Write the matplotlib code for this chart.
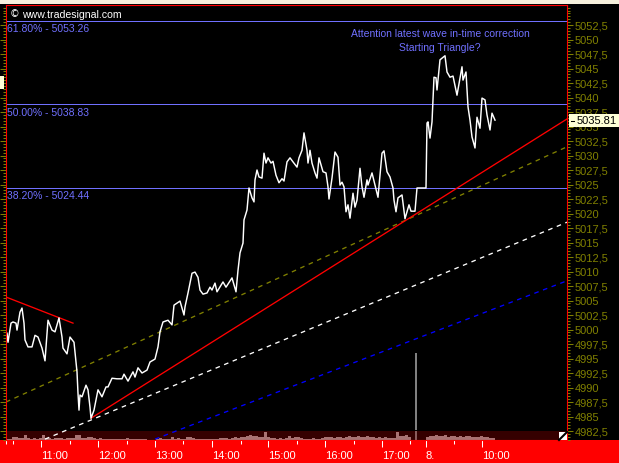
import matplotlib
matplotlib.use("Agg")
import matplotlib.pyplot as plt
from matplotlib.patches import Rectangle
from matplotlib.ticker import MultipleLocator
import numpy as np

W, H = 619, 463

# price line, x is bar number (about one bar per pixel)
bars = [0,1,2,5,7,10,11,14,16,18,19,22,26,29,32,36,39,42,46,49,53,56,57,61,64,68,71,72,73,74,76,80,82,84,85,
        88,92,96,100,102,106,111,116,118,122,127,129,132,136,141,144,149,152,154,157,162,166,168,174,178,179,
        182,186,189,192,194,197,201,204,206,209,211,217,220,226,230,232,234,237,238,241,243,246,248,249,251,
        253,256,258,260,262,265,267,270,273,276,278,281,284,287,291,293,296,298,301,302,304,306,309,311,313,
        317,320,322,323,326,329,332,334,336,338,340,342,344,347,349,351,354,356,358,361,362,366,369,372,376,
        378,381,384,387,388,390,392,396,399,403,405,409,411,420,421,422,424,426,428,430,431,434,439,441,444,
        447,451,456,457,460,462,464,466,469,471,474,476,479,481,484,486,489]
closes = [4997.3,4999.4,4997.8,5001.1,5001.3,5001.1,4999.9,5003.0,5003.7,5001.1,4998.2,4997.0,4997.0,4999.0,
          4998.7,4996.8,4994.6,5001.6,4999.9,4999.6,5002.0,4998.7,4996.8,4995.8,4998.7,4997.8,4992.7,4989.0,
          4986.1,4988.7,4988.4,4990.4,4989.6,4986.6,4984.7,4986.1,4989.6,4988.4,4990.1,4990.1,4991.6,4991.5,
          4991.5,4992.3,4991.1,4992.7,4991.8,4993.4,4992.5,4993.0,4994.4,4994.9,4997.0,4999.6,5001.3,5001.6,
          5000.8,5004.2,5004.9,5002.5,5003.9,5006.3,5009.7,5009.9,5009.0,5006.8,5006.1,5006.3,5007.3,5006.8,
          5008.0,5006.5,5008.2,5007.3,5008.9,5006.5,5010.2,5013.2,5014.9,5018.9,5020.6,5024.4,5022.7,5022.0,
          5025.8,5027.5,5026.3,5026.1,5030.4,5028.7,5029.6,5028.7,5029.0,5026.6,5025.3,5026.0,5025.6,5028.9,
          5029.6,5028.9,5028.0,5029.6,5030.9,5033.9,5030.9,5028.7,5030.9,5028.7,5027.0,5026.1,5029.6,5027.2,
          5027.0,5024.6,5022.5,5026.1,5030.6,5029.7,5024.9,5025.4,5024.6,5020.3,5021.5,5019.2,5023.5,5021.1,
          5022.3,5027.8,5024.6,5022.8,5025.8,5024.9,5027.0,5024.9,5022.8,5030.4,5030.8,5027.2,5026.3,5024.4,
          5022.3,5020.3,5022.7,5023.2,5019.1,5021.5,5020.4,5020.4,5024.4,5024.4,5035.6,5035.8,5033.0,5035.8,
          5043.5,5043.4,5041.3,5046.5,5047.2,5044.4,5043.5,5043.7,5040.4,5045.3,5043.0,5044.4,5038.4,5036.1,
          5033.2,5031.3,5036.6,5034.7,5039.9,5039.6,5037.0,5034.4,5037.3,5036.1]

# volume, one value every 3 bars
volumes = [1,1,3,3,2,2,5,2,1,2,
           1,2,5,2,2,1,2,2,2,1,
           2,2,2,5,5,2,2,3,3,2,
           1,2,1,1,1,1,1,1,1,1,
           2,1,1,1,1,1,1,0,0,0,
           1,2,1,1,1,3,1,2,1,1,
           3,3,2,1,1,1,1,1,1,1,
           1,2,2,2,1,2,3,2,3,3,
           4,5,4,4,3,3,8,3,2,2,
           1,2,1,2,4,2,3,3,2,1,
           1,1,2,1,1,2,3,3,3,2,
           3,3,2,3,4,3,3,4,3,3,
           4,3,3,2,3,2,3,2,2,2,
           8,4,4,5,3,0,0,0,0,0,
           3,4,4,5,4,4,5,3,4,4,
           3,4,3,4,4,3,3,3,4,3,
           3,2,2]
vol_step = 3
spike_bar = 410
spike_volume = 87
band_top = 9

# fib levels
fib_prices = [5053.26, 5038.83, 5024.44]
fib_labels = ["61.80% - 5053.26", "50.00% - 5038.83", "38.20% - 5024.44"]

# trend lines (bar, price at both ends)
red_short_x, red_short_y = [0, 67], [5005.6, 5001.1]
red_x, red_y = [85, 561], [4984.7, 5036.3]
olive_x, olive_y = [0, 561], [4987.5, 5031.5]
white_x, white_y = [39, 561], [4981.1, 5018.5]
blue_x, blue_y = [149, 561], [4981.1, 5008.4]

price_ticks = np.arange(4982.5, 5053, 2.5)
time_ticks = [35, 92, 149, 206, 262, 319, 376, 420, 476]
time_labels = ["11:00", "12:00", "13:00", "14:00", "15:00", "16:00", "17:00", "8.", "10:00"]
minor_time_ticks = [0, 7, 64, 121, 177, 235, 291, 348, 404, 448]
last_price = "5035.81"

RED = "#ff0000"
OLIVE = "#808000"
FIB = "#7070ff"
FONT = "Liberation Sans"


def px_x(x):
    return x / W


def px_y(y):
    return 1 - y / H


fig = plt.figure(figsize=(W / 100, H / 100), dpi=100, facecolor="black")

# window strips behind the axes
fig.patches.append(Rectangle((0, px_y(463)), 1, 23 / H, transform=fig.transFigure, color=RED, lw=0))
fig.patches.append(Rectangle((0, px_y(4)), 1, 4 / H, transform=fig.transFigure, color="#f6f0dc", lw=0))

rect = [px_x(6), px_y(440), 561 / W, 435 / H]

# volume sits under the price panel
ax_vol = fig.add_axes(rect, zorder=1, facecolor="black")
ax_vol.set_xlim(0, 561)
ax_vol.set_ylim(0, 435)
ax_vol.axis("off")
ax_vol.add_patch(Rectangle((0, 0), 561, band_top, color="#350000", lw=0))
vol_x = np.arange(len(volumes)) * vol_step
ax_vol.bar(vol_x, volumes, width=vol_step, align="edge", color="#a87272", lw=0)
ax_vol.bar([spike_bar], [band_top], width=2, color="#8a5c5c", lw=0)
ax_vol.bar([spike_bar], [spike_volume - band_top - 1], bottom=band_top + 1, width=2, color="#808080", lw=0)

ax = fig.add_axes(rect, zorder=2)
ax.patch.set_visible(False)
ax.set_xlim(0, 561)
ax.set_ylim(4980.95, 5055.95)

for price in fib_prices:
    ax.axhline(price, color=FIB, lw=0.72)

ax.plot(olive_x, olive_y, color=OLIVE, lw=0.95, dashes=(3.5, 3.5))
ax.plot(white_x, white_y, color="white", lw=0.95, dashes=(3.5, 3.5))
ax.plot(blue_x, blue_y, color="#0000ff", lw=0.95, dashes=(3.5, 3.5))
ax.plot(red_x, red_y, color=RED, lw=0.95)
ax.plot(red_short_x, red_short_y, color=RED, lw=0.95)
ax.plot(bars, closes, color="white", lw=1.05)

for spine in ax.spines.values():
    spine.set_color(RED)
    spine.set_linewidth(0.8)

# price scale
ax.set_yticks(price_ticks)
ax.yaxis.set_minor_locator(MultipleLocator(0.5))
ax.yaxis.tick_right()
ax.tick_params(axis="y", which="major", left=True, right=True, length=4, width=0.75, color=OLIVE,
               labelcolor=OLIVE, labelsize=8, pad=1.5)
ax.tick_params(axis="y", which="minor", left=True, right=True, length=2.5, width=0.75, color=OLIVE)
ax.yaxis.set_major_formatter(lambda v, pos: f"{v:.1f}".replace(".", ",").replace(",0", ""))
for label in ax.get_yticklabels():
    label.set_family(FONT)

# time scale
ax.set_xticks(time_ticks)
ax.set_xticklabels(time_labels, ha="left", family=FONT, fontsize=8, color="white")
ax.set_xticks(minor_time_ticks, minor=True)
ax.tick_params(axis="x", which="major", length=5, width=0.75, color="white", pad=3)
ax.tick_params(axis="x", which="minor", length=3, width=0.75, color="white")

# texts
for y, label in zip([29, 113, 196], fib_labels):
    fig.text(px_x(7), px_y(y), label, color=FIB, family=FONT, fontsize=7.5, va="center", ha="left", zorder=5)

fig.text(px_x(440), px_y(34), "Attention latest wave in-time correction", color=FIB, family=FONT,
         fontsize=7.5, va="center", ha="center", zorder=5)
fig.text(px_x(440), px_y(48), "Starting Triangle?", color=FIB, family=FONT, fontsize=7.5, va="center",
         ha="center", zorder=5)
fig.text(px_x(10), px_y(14), "©", color="white", family="DejaVu Sans", fontsize=7, va="center", ha="left", zorder=5)
fig.text(px_x(22), px_y(15), "www.tradesignal.com", color="white", family=FONT, fontsize=7.6, va="center",
         ha="left", zorder=5)

# last price box and left marker
fig.add_artist(Rectangle((px_x(569), px_y(127)), 50 / W, 13 / H, transform=fig.transFigure, color="#ffffd8", lw=0, zorder=6))
fig.text(px_x(577), px_y(121), last_price, color="black", family=FONT, fontsize=8, va="center", ha="left", zorder=7)
fig.add_artist(plt.Line2D([px_x(571), px_x(574)], [px_y(121), px_y(121)], transform=fig.transFigure,
                          color="black", lw=0.75, zorder=7))
fig.add_artist(Rectangle((0, px_y(89)), 4 / W, 13 / H, transform=fig.transFigure, color="#ffffd8", lw=0, zorder=6))

# resize corner
fig.add_artist(Rectangle((px_x(559), px_y(440)), 8 / W, 8 / H, transform=fig.transFigure, color="white", lw=0, zorder=6))
fig.add_artist(plt.Line2D([px_x(559), px_x(567)], [px_y(440), px_y(432)], transform=fig.transFigure,
                          color="black", lw=1.5, zorder=7))

fig.savefig("out.png", dpi=100, facecolor=fig.get_facecolor())
